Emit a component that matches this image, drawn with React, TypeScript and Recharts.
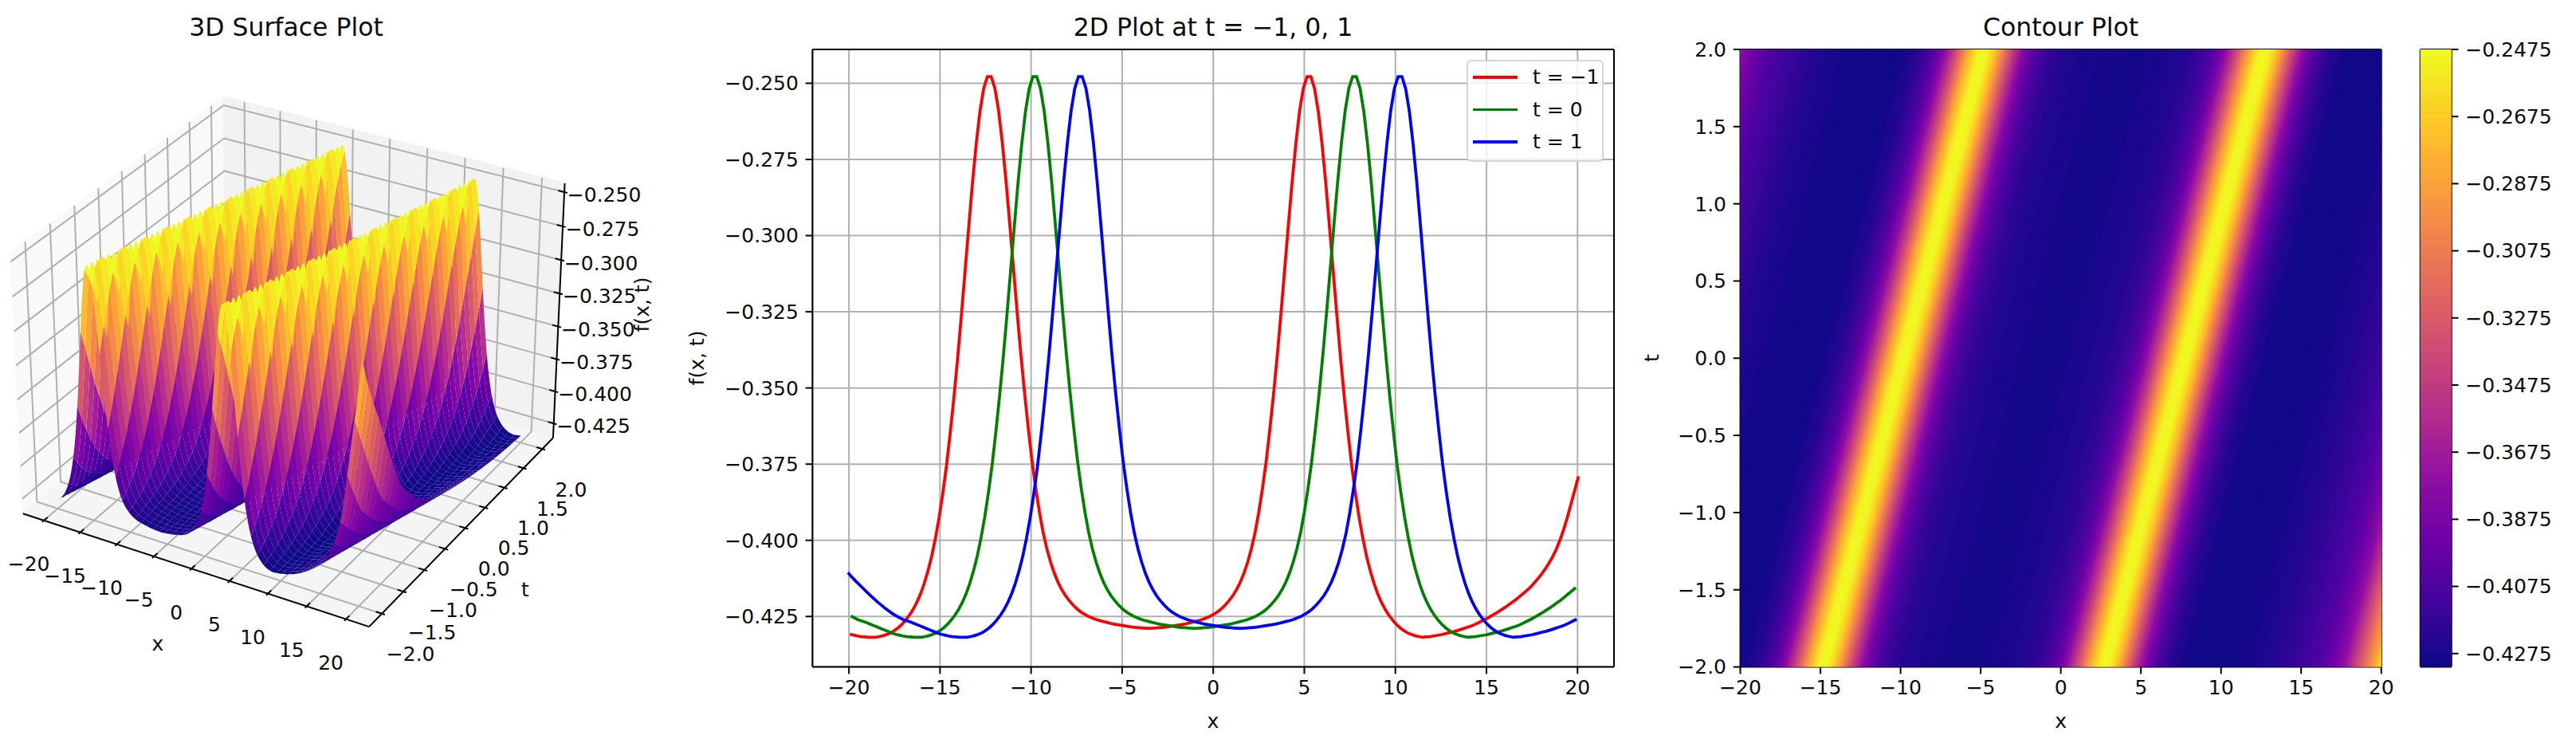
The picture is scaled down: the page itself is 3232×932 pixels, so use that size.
import React from 'react';
import { ScatterChart, Scatter, LineChart, Line, XAxis, YAxis, CartesianGrid, Legend } from 'recharts';

// f(x, t) profile, along u = x - c*t, in steps of 10/49 from u = -25.
const leftTail = [-.3750,-.3800,-.3846,-.3884,-.3922,-.3956,-.3986,-.4012,-.4035,-.4055,-.4073,-.4090,-.4106,-.4120,-.4133,-.4145,-.4157,-.4169,-.4181,-.4192,-.4203,-.4213,-.4223,-.4232,-.4241,-.4248,-.4255,-.4261,-.4265,-.4269,-.4274,-.4279,-.4284,-.4289,-.4294,-.4299,-.4304,-.4308,-.4311,-.4314,-.4316,-.4317,-.4318,-.4318];
const peakARise = [-.4318,-.4316,-.4313,-.4309,-.4304,-.4296,-.4287,-.4276,-.4262,-.4246,-.4227,-.4204,-.4176,-.4142,-.4101,-.4053,-.3994,-.3926,-.3846,-.3755,-.3647,-.3530,-.3401,-.3261,-.3115,-.2968,-.2825,-.2698,-.2592,-.2517,-.2478];
const peakAFall = [-.2478,-.2516,-.2589,-.2694,-.2820,-.2960,-.3106,-.3251,-.3390,-.3517,-.3633,-.3740,-.3829,-.3908,-.3975,-.4028,-.4072,-.4108,-.4138,-.4162,-.4182,-.4198,-.4212,-.4224,-.4234,-.4242,-.4249,-.4254,-.4259,-.4263,-.4266,-.4269,-.4272,-.4275,-.4277,-.4279,-.4281,-.4283,-.4285,-.4286,-.4287,-.4288,-.4289];
const peakBRise = [-.4289,-.4288,-.4287,-.4286,-.4285,-.4283,-.4281,-.4279,-.4277,-.4275,-.4272,-.4269,-.4266,-.4263,-.4259,-.4254,-.4249,-.4242,-.4234,-.4224,-.4212,-.4198,-.4182,-.4162,-.4138,-.4108,-.4072,-.4028,-.3975,-.3908,-.3829,-.3740,-.3633,-.3517,-.3390,-.3251,-.3106,-.2960,-.2820,-.2694,-.2589,-.2516,-.2478];
const peakBFall = [-.2478,-.2517,-.2592,-.2698,-.2825,-.2968,-.3115,-.3261,-.3401,-.3530,-.3647,-.3755,-.3846,-.3926,-.3994,-.4053,-.4101,-.4142,-.4176,-.4204,-.4227,-.4246,-.4262,-.4276,-.4287,-.4296,-.4304,-.4309,-.4313,-.4316,-.4318];
const rightTail = [-.4317,-.4316,-.4314,-.4312,-.4310,-.4307,-.4304,-.4301,-.4298,-.4294,-.4290,-.4286,-.4282,-.4277,-.4271,-.4265,-.4259,-.4252,-.4245,-.4238,-.4230,-.4222,-.4214,-.4205,-.4196,-.4186,-.4176,-.4166,-.4155,-.4141,-.4127,-.4112,-.4095,-.4076,-.4055,-.4030,-.4000,-.3965,-.3925,-.3880,-.3835,-.3790,-.3710,-.3625,-.3530,-.3430,-.3330,-.3225,-.3125,-.3030,-.2935,-.2825,-.2710,-.2575];
const profile = [...leftTail, ...peakARise, ...peakAFall, ...peakBRise, ...peakBFall, ...rightTail];

const xTicks = [-20, -15, -10, -5, 0, 5, 10, 15, 20];
const tTicks = [-2, -1.5, -1, -0.5, 0, 0.5, 1, 1.5, 2];
const fTicks = [-0.25, -0.275, -0.3, -0.325, -0.35, -0.375, -0.4, -0.425];
const barTicks = [-0.2475, -0.2675, -0.2875, -0.3075, -0.3275, -0.3475, -0.3675, -0.3875, -0.4075, -0.4275];
const plasmaStops = ['#0d0887', '#41049d', '#6a00a8', '#8f0da4', '#b12a90', '#cc4778', '#e16462', '#f2844b', '#fca636', '#fcce25', '#f0f921'];
const seriesNames = ['t = \u22121', 't = 0', 't = 1'];
const seriesColors = ['#ff0000', '#008000', '#0000ff'];
const seriesT = [-1, 0, 1];
const seriesRange = [[37, 233], [25, 220], [12, 208]];

const FONT = 'DejaVu Sans';
const INK = '#0c0c0c';
const U_STEP = 10 / 49;
const uAt = (i: number) => -25 + i * U_STEP;
const minus = (s: string) => s.replace('-', '\u2212');

const stopRGB = plasmaStops.map((h) => [1, 3, 5].map((k) => parseInt(h.slice(k, k + 2), 16)));
function plasma(v: number) {
  const c = Math.max(0, Math.min(0.99999, v)) * (stopRGB.length - 1);
  const i = Math.floor(c);
  const f = c - i;
  const m = stopRGB[i].map((a, j) => Math.round(a + (stopRGB[i + 1][j] - a) * f));
  return `rgb(${m[0]},${m[1]},${m[2]})`;
}

type P = { x: number; y: number };
type Poly = { verts: P[]; fill?: string; stroke?: string; sw?: number };

function polyScatter(polys: Poly[], key: string) {
  const data: P[] = [];
  polys.forEach((p) => p.verts.forEach((v) => data.push(v)));
  const draw = (props: any) => {
    const pts = props.points;
    let k = 0;
    return (
      <g>
        {polys.map((p, idx) => {
          const seg = pts.slice(k, k + p.verts.length);
          k += p.verts.length;
          const d = seg.map((q: any, j: number) => `${j ? 'L' : 'M'}${q.x.toFixed(2)} ${q.y.toFixed(2)}`).join('') + (p.fill ? 'Z' : '');
          return <path key={idx} d={d} fill={p.fill || 'none'} stroke={p.stroke || 'none'} strokeWidth={p.sw || 0} />;
        })}
      </g>
    );
  };
  return <Scatter key={key} data={data} line={draw} shape={() => null} isAnimationActive={false} legendType="none" />;
}

function labelScatter(labels: any[], key: string) {
  const shape = (p: any) => (
    <text x={p.cx} y={p.cy} textAnchor="middle" dominantBaseline="central" fontFamily={FONT} fontSize={25} fill={INK}
      transform={p.payload.rot ? `rotate(${p.payload.rot} ${p.cx} ${p.cy})` : undefined}>{p.payload.label}</text>
  );
  return <Scatter key={key} data={labels} shape={shape} isAnimationActive={false} legendType="none" />;
}

// ---- 3D camera: matplotlib default view, elev 30, azim -60
const XL = [-22.92, 22.92];
const TL = [-2.292, 2.292];
const ZL = [-0.4364, -0.2436];
function proj(x: number, t: number, z: number) {
  const dx = ((x - XL[0]) / (XL[1] - XL[0]) - 0.5) * 1.1905;
  const dy = ((t - TL[0]) / (TL[1] - TL[0]) - 0.5) * 1.1905;
  const dz = ((z - ZL[0]) / (ZL[1] - ZL[0]) - 0.5) * 0.8929;
  const xv = 0.866025 * dx + 0.5 * dy;
  const yv = -0.25 * dx + 0.433013 * dy + 0.866025 * dz;
  const den = 10 - (0.433013 * dx - 0.75 * dy + 0.5 * dz);
  return { x: 367.5 + (4180 * xv) / den, y: 437.8 - (4180 * yv) / den, den };
}
const [x0, x1] = XL;
const [t0, t1] = TL;
const [z0, z1] = ZL;
const panes: Poly[] = [
  { verts: [proj(x0, t0, z0), proj(x0, t0, z1), proj(x0, t1, z1), proj(x0, t1, z0)], fill: '#f9f9f9', stroke: '#f9f9f9', sw: 2 },
  { verts: [proj(x0, t1, z0), proj(x0, t1, z1), proj(x1, t1, z1), proj(x1, t1, z0)], fill: '#f2f2f2', stroke: '#f2f2f2', sw: 2 },
  { verts: [proj(x0, t0, z0), proj(x1, t0, z0), proj(x1, t1, z0), proj(x0, t1, z0)], fill: '#f5f5f5', stroke: '#f5f5f5', sw: 2 },
];
const grid3d: Poly[] = [
  ...xTicks.map((v) => ({ verts: [proj(v, t0, z0), proj(v, t1, z0), proj(v, t1, z1)], stroke: '#b0b0b0', sw: 2 })),
  ...tTicks.map((v) => ({ verts: [proj(x1, v, z0), proj(x0, v, z0), proj(x0, v, z1)], stroke: '#b0b0b0', sw: 2 })),
  ...fTicks.map((v) => ({ verts: [proj(x0, t0, v), proj(x0, t1, v), proj(x1, t1, v)], stroke: '#b0b0b0', sw: 2 })),
];
const axes3d: Poly[] = [
  { verts: [proj(x0, t0, z0), proj(x1, t0, z0)], stroke: '#000', sw: 2 },
  { verts: [proj(x1, t0, z0), proj(x1, t1, z0)], stroke: '#000', sw: 2 },
  { verts: [proj(x1, t1, z0), proj(x1, t1, z1)], stroke: '#000', sw: 2 },
  ...xTicks.map((v) => ({ verts: [proj(v, t0 - 0.0382, z0), proj(v, t0 + 0.0764, z0)], stroke: '#000', sw: 2 })),
  ...tTicks.map((v) => ({ verts: [proj(x1 + 0.382, v, z0), proj(x1 - 0.764, v, z0)], stroke: '#000', sw: 2 })),
  ...fTicks.map((v) => ({ verts: [proj(x1 + 0.382, t1, v), proj(x1 - 0.764, t1, v)], stroke: '#000', sw: 2 })),
];
const labels3d = [
  ...xTicks.map((v) => { const p = proj(v, t0, z0); return { x: p.x - 19, y: p.y + 55, label: minus(String(v)) }; }),
  ...tTicks.map((v) => { const p = proj(x1, v, z0); return { x: p.x + 36, y: p.y + 51, label: minus(v.toFixed(1)) }; }),
  ...fTicks.map((v) => { const p = proj(x1, t1, v); return { x: p.x + 50, y: p.y + 3.8, label: minus(v.toFixed(3)) }; }),
  { x: 198, y: 807, label: 'x' },
  { x: 659, y: 739.5, label: 't' },
  { x: 805, y: 382, label: 'f(x, t)', rot: -90 },
];

// Surface: 49 x 49 facets whose x-edges follow the read profile at four sub-steps each.
const FACETS = 49;
const SUB = 4;
const sx = (C: number) => -20 + (C * 40) / (FACETS * SUB);
const st = (r: number) => -2 + (r * 4) / FACETS;
const sz = (C: number, r: number) => profile[49 + C - r];
const rawFacets: { verts: P[]; mean: number; den: number }[] = [];
for (let r = 0; r < FACETS; r++) {
  for (let c = 0; c < FACETS; c++) {
    const C = SUB * c;
    const ring: number[][] = [];
    for (let j = 0; j <= SUB; j++) ring.push([C + j, r]);
    for (let j = SUB; j >= 0; j--) ring.push([C + j, r + 1]);
    const vals = ring.map(([a, b]) => sz(a, b));
    const sideA = (sz(C, r) + sz(C, r + 1)) / 2;
    const sideB = (sz(C + SUB, r) + sz(C + SUB, r + 1)) / 2;
    const mean = (vals.reduce((s, v) => s + v, 0) + (SUB - 1) * (sideA + sideB)) / (vals.length + 2 * (SUB - 1));
    const verts = ring.map(([a, b]) => proj(sx(a), st(b), sz(a, b)));
    const den = verts.reduce((s, v) => s + v.den, 0) / verts.length;
    rawFacets.push({ verts: verts.map((v) => ({ x: v.x, y: v.y })), mean, den });
  }
}
const meanMin = Math.min(...rawFacets.map((f) => f.mean));
const meanMax = Math.max(...rawFacets.map((f) => f.mean));
const facets: Poly[] = rawFacets
  .sort((a, b) => b.den - a.den)
  .map((f) => ({ verts: f.verts, fill: plasma((f.mean - meanMin) / (meanMax - meanMin)) }));

// ---- contour strips
const BAR_MIN = -0.4315;
const BAR_MAX = -0.2475;
const HEAT_SPEED = 2.5;
const levelColor = (v: number) => {
  const L = Math.max(0, Math.min(99, Math.floor(((v - BAR_MIN) / (BAR_MAX - BAR_MIN)) * 100)));
  return plasma((L + 0.5) / 100);
};
const heatPolys: Poly[] = [];
profile.slice(0, -1).forEach((v, i) => {
  for (let s = 0; s < 3; s++) {
    const ua = uAt(i) + (s / 3) * U_STEP;
    const ub = uAt(i) + ((s + 1) / 3) * U_STEP;
    const val = v + ((s + 0.5) / 3) * (profile[i + 1] - v);
    const col = levelColor(val);
    heatPolys.push({
      verts: [
        { x: ua - 2 * HEAT_SPEED, y: -2 }, { x: ua + 2 * HEAT_SPEED, y: 2 },
        { x: ub + 2 * HEAT_SPEED, y: 2 }, { x: ub - 2 * HEAT_SPEED, y: -2 },
      ],
      fill: col, stroke: col, sw: 1,
    });
  }
});
const barPolys: Poly[] = Array.from({ length: 100 }, (_, i) => {
  const lo = BAR_MIN + (i / 100) * (BAR_MAX - BAR_MIN);
  const hi = BAR_MIN + ((i + 1) / 100) * (BAR_MAX - BAR_MIN);
  const col = plasma((i + 0.5) / 100);
  return { verts: [{ x: 0, y: lo }, { x: 1, y: lo }, { x: 1, y: hi }, { x: 0, y: hi }], fill: col, stroke: col, sw: 1 };
});

// ---- 2D curves: the same read profile placed at each t
const lineData = seriesT.map((tv, k) =>
  profile
    .map((f, i) => ({ x: uAt(i) + 2.5 * tv, f, i }))
    .filter((d) => d.i >= seriesRange[k][0] && d.i <= seriesRange[k][1])
);

const tickFont = { fontSize: 25, fontFamily: FONT, fill: INK };
const tickLine = { stroke: '#000', strokeWidth: 2 };
const axisLine = { stroke: '#000', strokeWidth: 2 };
const W = 3232;
const H = 932;

const Txt = ({ x, y, size = 25, rot, children }: any) => (
  <text x={x} y={y} textAnchor="middle" dominantBaseline="central" fontFamily={FONT} fontSize={size} fill={INK}
    transform={rot ? `rotate(${rot} ${x} ${y})` : undefined}>{children}</text>
);

function LegendBox({ payload }: any) {
  return (
    <div style={{ position: 'relative', width: 172, height: 128, boxSizing: 'border-box', background: 'rgba(255,255,255,0.8)', border: '2px solid rgba(204,204,204,0.8)', borderRadius: 6 }}>
      {seriesNames.map((name, i) => {
        const item = (payload || []).find((p: any) => p.value === name);
        const top = 20.3 + i * 40.2;
        return (
          <React.Fragment key={name}>
            <div style={{ position: 'absolute', left: 6, top: top - 1.9, width: 56, height: 3.75, background: item ? item.color : seriesColors[i] }} />
            <div style={{ position: 'absolute', left: 81, top: top - 16, height: 32, lineHeight: '32px', fontFamily: FONT, fontSize: 25, color: INK, whiteSpace: 'nowrap' }}>{name}</div>
          </React.Fragment>
        );
      })}
    </div>
  );
}

function Surface3D() {
  return (
    <ScatterChart width={860} height={H} margin={{ top: 0, right: 0, bottom: 0, left: 0 }}>
      <XAxis type="number" dataKey="x" domain={[0, 860]} hide allowDataOverflow />
      <YAxis type="number" dataKey="y" domain={[0, H]} hide reversed allowDataOverflow />
      {polyScatter(panes, 'panes')}
      {polyScatter(grid3d, 'grid')}
      {polyScatter(axes3d, 'axes')}
      {polyScatter(facets, 'surface')}
      {labelScatter(labels3d, 'labels')}
      <Txt x={359} y={34} size={31.5}>3D Surface Plot</Txt>
    </ScatterChart>
  );
}

function Lines2D() {
  const xd: [number, number] = [-22, 22];
  const yd: [number, number] = [-0.44156, -0.2389];
  return (
    <LineChart width={1180} height={H} margin={{ top: 61, right: 14, bottom: 35.4, left: 29.4 }}>
      <CartesianGrid stroke="#b0b0b0" strokeWidth={2} />
      <XAxis type="number" dataKey="x" domain={xd} ticks={xTicks} interval={0} allowDataOverflow height={60} tick={tickFont} tickLine={tickLine} axisLine={axisLine} tickSize={8.75} tickMargin={8} tickFormatter={(v: number) => minus(String(v))} />
      <YAxis type="number" domain={yd} ticks={fTicks} interval={0} allowDataOverflow width={130} tick={tickFont} tickLine={tickLine} axisLine={axisLine} tickSize={8.75} tickMargin={8.75} tickFormatter={(v: number) => minus(v.toFixed(3))} />
      <XAxis xAxisId="top" type="number" orientation="top" domain={xd} allowDataOverflow height={1} tick={false} tickLine={false} axisLine={axisLine} />
      <YAxis yAxisId="right" type="number" orientation="right" domain={yd} allowDataOverflow width={1} tick={false} tickLine={false} axisLine={axisLine} />
      {seriesNames.map((n, i) => (
        <Line key={n} data={lineData[i]} dataKey="f" name={n} type="linear" stroke={seriesColors[i]} strokeWidth={3.75} dot={false} isAnimationActive={false} />
      ))}
      <Legend layout="horizontal" align="center" verticalAlign="middle" itemSorter={null as any} content={<LegendBox />} wrapperStyle={{ left: 980, top: 75, width: 172, height: 128, margin: 0 }} />
      <Txt x={662} y={34} size={31.5}>2D Plot at t = {'\u2212'}1, 0, 1</Txt>
      <Txt x={662} y={904}>x</Txt>
      <Txt x={14} y={449} rot={-90}>f(x, t)</Txt>
    </LineChart>
  );
}

function Heat() {
  const xd: [number, number] = [-20, 20];
  const yd: [number, number] = [-2, 2];
  return (
    <ScatterChart width={1000} height={H} margin={{ top: 61, right: 51.3, bottom: 35.4, left: 43.5 }}>
      <XAxis type="number" dataKey="x" domain={xd} ticks={xTicks} interval={0} allowDataOverflow height={60} tick={tickFont} tickLine={tickLine} axisLine={axisLine} tickSize={8.75} tickMargin={8} tickFormatter={(v: number) => minus(String(v))} />
      <YAxis type="number" dataKey="y" domain={yd} ticks={tTicks} interval={0} allowDataOverflow width={100} tick={tickFont} tickLine={tickLine} axisLine={axisLine} tickSize={8.75} tickMargin={8.75} tickFormatter={(v: number) => minus(v.toFixed(1))} />
      <XAxis xAxisId="top" type="number" orientation="top" domain={xd} allowDataOverflow height={1} tick={false} tickLine={false} axisLine={axisLine} />
      <YAxis yAxisId="right" type="number" orientation="right" domain={yd} allowDataOverflow width={1} tick={false} tickLine={false} axisLine={axisLine} />
      {polyScatter(heatPolys, 'heat')}
      <Txt x={545.6} y={34} size={31.5}>Contour Plot</Txt>
      <Txt x={545.6} y={904}>x</Txt>
      <Txt x={32} y={449} rot={-90}>t</Txt>
    </ScatterChart>
  );
}

function ColorBar() {
  const xd: [number, number] = [0, 1];
  const yd: [number, number] = [BAR_MIN, BAR_MAX];
  return (
    <ScatterChart width={232} height={H} margin={{ top: 61, right: 26.3, bottom: 94.4, left: 35.7 }}>
      <XAxis type="number" dataKey="x" domain={xd} allowDataOverflow height={1} tick={false} tickLine={false} axisLine={axisLine} />
      <YAxis type="number" dataKey="y" orientation="right" domain={yd} ticks={barTicks} interval={0} allowDataOverflow width={130} tick={tickFont} tickLine={tickLine} axisLine={axisLine} tickSize={8.75} tickMargin={8.75} tickFormatter={(v: number) => minus(v.toFixed(4))} />
      <XAxis xAxisId="top" type="number" orientation="top" domain={xd} allowDataOverflow height={1} tick={false} tickLine={false} axisLine={axisLine} />
      <YAxis yAxisId="left" type="number" orientation="left" domain={yd} allowDataOverflow width={1} tick={false} tickLine={false} axisLine={axisLine} />
      {polyScatter(barPolys, 'bar')}
    </ScatterChart>
  );
}

const Box = ({ left, width, children }: any) => (
  <div style={{ position: 'absolute', left, top: 0, width, height: H }}>{children}</div>
);

export default function App() {
  return (
    <div style={{ position: 'absolute', left: 0, top: 0, width: W, height: H, background: '#fff', overflow: 'hidden' }}>
      <Box left={0} width={860}><Surface3D /></Box>
      <Box left={860} width={1180}><Lines2D /></Box>
      <Box left={2040} width={1000}><Heat /></Box>
      <Box left={3000} width={232}><ColorBar /></Box>
    </div>
  );
}
